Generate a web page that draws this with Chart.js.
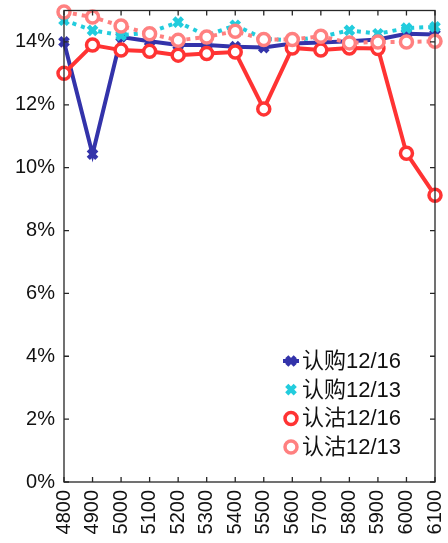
<!DOCTYPE html>
<html><head><meta charset="utf-8">
<script src="https://cdn.jsdelivr.net/npm/chart.js@4/dist/chart.umd.min.js"></script>
<style>html,body{margin:0;padding:0;background:#fff;overflow:hidden}canvas{display:block}</style>
</head><body>
<canvas id="c" width="448" height="543"></canvas>
<script>
const categories = ['4800','4900','5000','5100','5200','5300','5400','5500','5600','5700','5800','5900','6000','6100'];
const call1216 = [14.0,10.43,14.16,14.02,13.9,13.9,13.85,13.82,13.95,13.98,14.02,14.08,14.26,14.24];
const call1213 = [14.69,14.37,14.21,14.3,14.63,14.2,14.53,14.1,14.05,14.16,14.37,14.26,14.44,14.48];
const put1216  = [13.0,13.9,13.74,13.7,13.58,13.63,13.68,11.87,13.81,13.74,13.81,13.79,10.46,9.12];
const put1213  = [14.95,14.79,14.51,14.26,14.05,14.16,14.34,14.08,14.08,14.18,13.97,14.0,14.0,14.02];
const seriesNames = ['认购12/16','认购12/13','认沽12/16','认沽12/13'];
const yTicks = [0,2,4,6,8,10,12,14];

const FONT = "'Liberation Sans','Noto Sans CJK SC',sans-serif";
const AX = '#262626';

const styles = [
  {color:'#3333AA', dash:[], ps:'crossRot', r:6, bw:4.5, solid:true},
  {color:'#22CCDD', dash:[4,5], ps:'crossRot', r:6, bw:4.5, solid:false},
  {color:'#FF3333', dash:[], ps:'circle', r:6, bw:3.5, solid:true},
  {color:'#FF8080', dash:[4,5], ps:'circle', r:6, bw:3.5, solid:false}
];
const values = [call1216, call1213, put1216, put1213];

const datasets = values.map((v,i)=>({
  label: seriesNames[i],
  data: v,
  borderColor: styles[i].color,
  backgroundColor: '#fff',
  borderWidth: 4,
  borderDash: styles[i].dash,
  pointStyle: styles[i].ps,
  pointRadius: styles[i].r,
  pointBorderWidth: styles[i].bw,
  pointBorderColor: styles[i].color,
  pointBackgroundColor: '#fff',
  tension: 0,
  clip: false,
  order: 3 - i
}));

const boxPlugin = {
  id:'box',
  afterDraw(chart){
    const {ctx, chartArea:a, scales:{x,y}} = chart;
    ctx.save();
    ctx.strokeStyle = AX; ctx.lineWidth = 1.3;
    ctx.strokeRect(a.left, a.top, a.right-a.left, a.bottom-a.top);
    ctx.beginPath();
    const L = 5;
    categories.forEach((c,i)=>{
      const px = x.getPixelForValue(i);
      ctx.moveTo(px, a.bottom); ctx.lineTo(px, a.bottom-L);
      ctx.moveTo(px, a.top); ctx.lineTo(px, a.top+L);
    });
    yTicks.forEach(t=>{
      const py = y.getPixelForValue(t);
      ctx.moveTo(a.left, py); ctx.lineTo(a.left+L, py);
      ctx.moveTo(a.right, py); ctx.lineTo(a.right-L, py);
    });
    ctx.stroke();
    // legend
    const lx = 291, ly0 = 361, dy = 28.7;
    ctx.font = '22px ' + FONT;
    ctx.textBaseline = 'middle';
    ctx.textAlign = 'left';
    seriesNames.forEach((n,i)=>{
      const s = styles[i];
      const yy = ly0 + i*dy;
      if (s.solid && s.ps==='crossRot'){
        ctx.setLineDash([]);
        ctx.strokeStyle = s.color; ctx.lineWidth = 4;
        ctx.beginPath(); ctx.moveTo(lx-8, yy); ctx.lineTo(lx+8, yy); ctx.stroke();
      }
      ctx.strokeStyle = s.color; ctx.fillStyle = '#fff'; ctx.lineWidth = s.bw;
      Chart.helpers.drawPoint(ctx, {pointStyle:s.ps, radius:s.r, borderWidth:s.bw, rotation:0}, lx, yy);
      ctx.fillStyle = '#111';
      ctx.fillText(n, lx+11, yy+1);
    });
    ctx.restore();
  }
};

new Chart(document.getElementById('c'), {
  type:'line',
  data:{labels:categories, datasets},
  options:{
    responsive:false, animation:false,
    layout:{padding:{left:0,right:13,top:10,bottom:0}},
    plugins:{legend:{display:false}, tooltip:{enabled:false}},
    scales:{
      x:{
        offset:false,
        grid:{display:false, drawTicks:false},
        border:{display:false},
        ticks:{minRotation:90, maxRotation:90, autoSkip:false, padding:8, color:'#111', font:{family:FONT, size:20}},
        afterFit(s){ s.height = 61; s.paddingLeft = 0; s.paddingRight = 0; }
      },
      y:{
        min:0, max:15,
        grid:{display:false, drawTicks:false},
        border:{display:false},
        afterBuildTicks(s){ s.ticks = yTicks.map(v=>({value:v})); },
        ticks:{padding:9, color:'#111', font:{family:FONT, size:20}, callback:v=>v+'%'},
        afterFit(s){ s.width = 64; s.paddingTop = 0; s.paddingBottom = 0; }
      }
    }
  },
  plugins:[boxPlugin]
});
</script>
</body></html>
